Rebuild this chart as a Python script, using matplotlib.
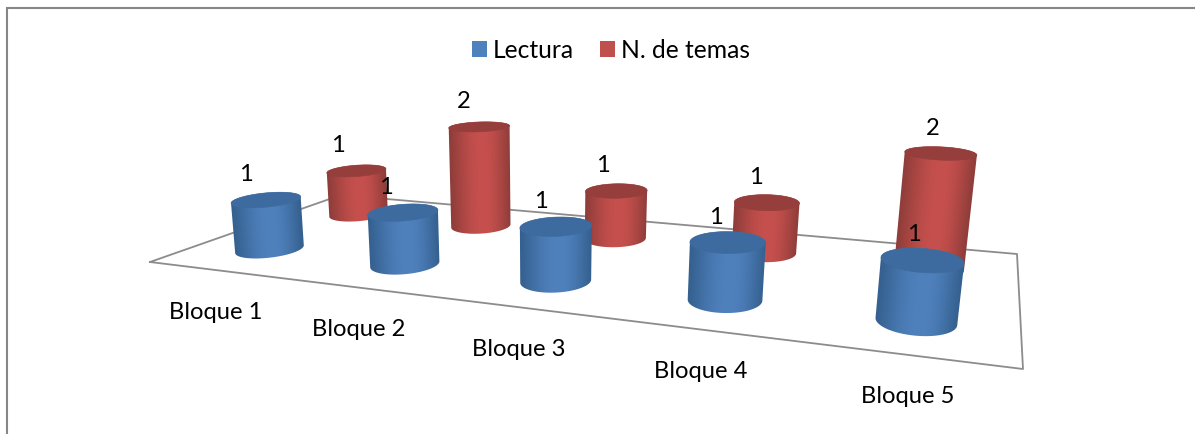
import numpy as np
import matplotlib
matplotlib.use("Agg")
import matplotlib.pyplot as plt
from matplotlib.patches import Polygon, Patch
from matplotlib.colors import to_rgb

categories = ["Bloque 1", "Bloque 2", "Bloque 3", "Bloque 4", "Bloque 5"]
lectura = [1, 1, 1, 1, 1]
temas = [1, 2.15, 1, 1, 2.15]
series_names = ["Lectura", "N. de temas"]

plt.rcParams['font.family'] = ['Lato', 'DejaVu Sans']
W, H = 1195, 435
fig = plt.figure(figsize=(W/100, H/100), dpi=100, facecolor='white')
ax = fig.add_axes([0, 0, 1, 1])

# perspective camera: floor (X category, Y series depth) + height Z
src = [(0, 0), (5, 0), (5, 2), (0, 2)]
dst = [(150, 263), (1023, 370), (1017, 255), (341, 196)]
A = []
for (x, y), (u, v) in zip(src, dst):
    A.append([x, y, 1, 0, 0, 0, -u*x, -u*y, -u])
    A.append([0, 0, 0, x, y, 1, -v*x, -v*y, -v])
hv = np.linalg.svd(np.array(A, float))[2][-1]
Hm = (hv/hv[-1]).reshape(3, 3)
vp = np.array([545.0, 4000.0, 1.0])
lam = -0.0135
P = np.column_stack([Hm[:, 0], Hm[:, 1], lam*vp, Hm[:, 2]])

def proj(x, y, z=0.0):
    x, y, z = np.broadcast_arrays(np.asarray(x, float), np.asarray(y, float), np.asarray(z, float))
    q = P @ np.stack([x.ravel(), y.ravel(), z.ravel(), np.ones(x.size)])
    return (q[0]/q[2]).reshape(x.shape), (q[1]/q[2]).reshape(x.shape)

def hull(pts):
    pts = sorted(set(map(tuple, pts)))
    def half(seq):
        out = []
        for p in seq:
            while len(out) > 1 and ((out[-1][0]-out[-2][0])*(p[1]-out[-2][1]) - (out[-1][1]-out[-2][1])*(p[0]-out[-2][0])) <= 0:
                out.pop()
            out.append(p)
        return out[:-1]
    return np.array(half(pts) + half(pts[::-1]))

BLUE = ('#35608f', '#4f81bd', '#3e6b9f')
RED = ('#8f3d3a', '#c6504d', '#953e3b')
RX, RY = 0.2, 0.225

def cylinder(cx, cy, h, pal, zo):
    t = np.linspace(0, 2*np.pi, 181)
    xs = cx + RX*np.cos(t); ys = cy + RY*np.sin(t)
    bx, by = proj(xs, ys, 0); tx, ty = proj(xs, ys, h)
    edge, mid = np.array(to_rgb(pal[0])), np.array(to_rgb(pal[1]))
    x0, x1 = min(bx.min(), tx.min()) - 2, max(bx.max(), tx.max()) + 2
    y0, y1 = min(by.min(), ty.min()) - 2, max(by.max(), ty.max()) + 2
    nx, ny = int((x1-x0)*2), int((y1-y0)*2)
    gx, gy = np.meshgrid(np.linspace(x0, x1, nx), np.linspace(y0, y1, ny))
    ib, it = bx.argmin(), tx.argmin()
    jb, jt = bx.argmax(), tx.argmax()
    s = (by[ib] - gy)/(by[ib] - ty[it])
    left = bx[ib] + s*(tx[it]-bx[ib])
    right = bx[jb] + s*(tx[jt]-bx[jb])
    u = np.clip((gx-left)/(right-left), 0, 1)
    d = np.where(u < 0.55, u/0.55, (1-u)/0.45)
    f = (np.sin(d*np.pi/2)**1.1)[..., None]
    img = edge + (mid-edge)*f
    poly = Polygon(hull(np.column_stack([np.r_[bx, tx], np.r_[by, ty]])), closed=True, fc='none', ec='none',
                   transform=ax.transData)
    ax.add_patch(poly)
    im = ax.imshow(img, extent=(x0, x1, y1, y0), origin='upper', aspect='auto', zorder=zo, interpolation='bilinear')
    im.set_clip_path(poly)
    ax.add_patch(Polygon(np.column_stack([tx, ty]), closed=True, fc=pal[2], ec=pal[2], lw=0.4, zorder=zo+0.1))

# walls / frame
ax.plot([7.5, 7.5, W], [H, 8.5, 8.5], color='#868686', lw=1.5, solid_joinstyle='miter', zorder=1)
# floor outline
fx, fy = proj([0, 5, 5, 0, 0], [0, 0, 2, 2, 0])
ax.plot(fx, fy, color='#8c8c8c', lw=1.3, zorder=2)

FS = 17.1
for i, c in enumerate(categories):
    lx, ly = proj(i + 0.5, 0.0)
    ax.annotate(c, (float(lx), float(ly)), xytext=(0, -41), textcoords='offset pixels',
                ha='center', va='center', fontsize=FS, color='black', zorder=20)

series = [(temas, 1.5, RED), (lectura, 0.5, BLUE)]
zo = 3
for vals, y, pal in series:
    for i, v in enumerate(vals):
        cylinder(i + 0.5, y, v, pal, zo)
        zo += 1
        tx, ty = proj(i + 0.5, y, v)
        dx = -20 + 12*(float(tx) - 265)/660
        ax.annotate(f"{v:.0f}", (float(tx), float(ty)), xytext=(dx, 26), textcoords='offset pixels',
                    ha='center', va='center', fontsize=FS, color='black', zorder=21)

handles = [Patch(facecolor='#4f81bd', lw=0), Patch(facecolor='#c0504d', lw=0)]
ax.legend(handles, series_names, loc='center', bbox_to_anchor=(611/W, 1-51/H), ncol=2, frameon=False,
          fontsize=17.7, handlelength=0.59, handleheight=0.59, handletextpad=0.24, columnspacing=1.07,
          borderpad=0, borderaxespad=0)
ax.set_xlim(0, W); ax.set_ylim(H, 0); ax.axis('off')
fig.savefig('out.png', dpi=100, facecolor='white')
